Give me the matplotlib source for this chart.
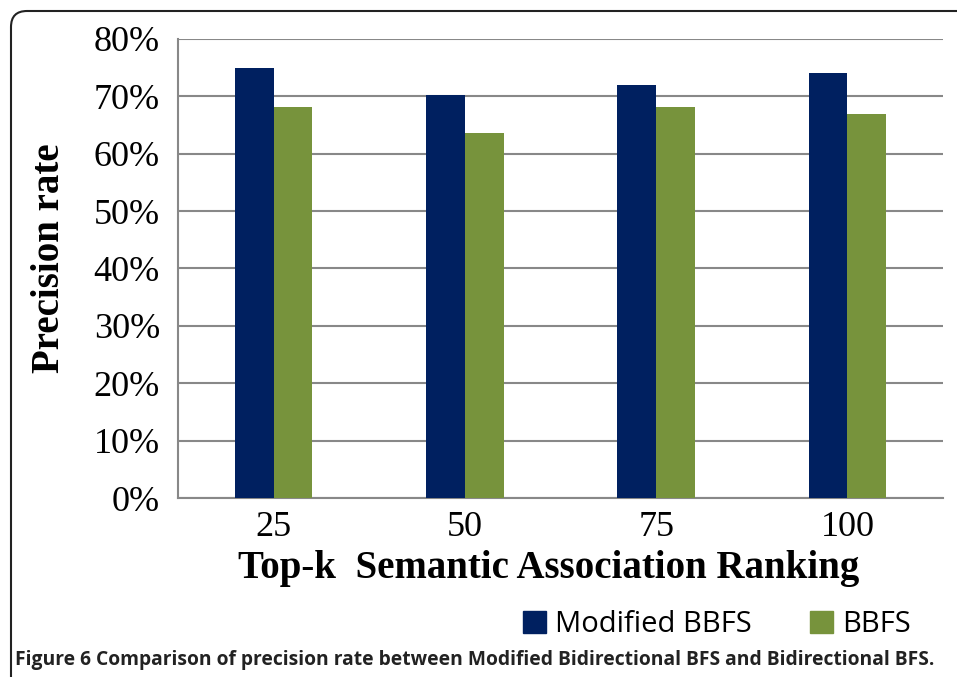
#!/usr/bin/env python3
"""Precision rate of Modified BBFS vs BBFS over top-k semantic association ranking."""
import numpy as np
import matplotlib; matplotlib.use("Agg"); import matplotlib.pyplot as plt
from matplotlib.patches import Patch, FancyBboxPatch
from matplotlib.transforms import IdentityTransform

CATS = ["25", "50", "75", "100"]
MOD_BBFS = [75, 70.3, 72, 74]
BBFS = [68.2, 63.7, 68.1, 67]
YTICKS = [0, 10, 20, 30, 40, 50, 60, 70, 80]
NAVY, GREEN, GRID = "#002060", "#77933C", "#888888"

fig = plt.figure(figsize=(9.57, 6.77), dpi=100)
ax = fig.add_axes([0.186, 0.2644, 0.7994, 0.678])
x = np.arange(len(CATS)); w = 0.203
ax.bar(x - w / 2, MOD_BBFS, w, color=NAVY, zorder=3)
ax.bar(x + w / 2, BBFS, w, color=GREEN, zorder=3)
ax.set_xlim(-0.5, len(CATS) - 0.5); ax.set_ylim(0, 80)
ax.set_yticks(YTICKS); ax.set_yticklabels([f"{v}%" for v in YTICKS])
ax.set_xticks(x); ax.set_xticklabels(CATS)
ax.grid(axis="y", color=GRID, lw=1.5, zorder=0)
for s in ("top", "right"): ax.spines[s].set_visible(False)
for s in ("left", "bottom"): ax.spines[s].set_color(GRID); ax.spines[s].set_linewidth(1.5)
ax.tick_params(length=0, labelsize=26)
ax.tick_params(axis="y", pad=13); ax.tick_params(axis="x", pad=9)
for t in ax.get_xticklabels() + ax.get_yticklabels(): t.set_family("Liberation Serif")

fig.text(0.052, 0.619, "Precision rate", rotation=90, ha="center", va="center",
         family="Liberation Serif", weight="bold", fontsize=28)
fig.text(0.573, 0.160, "Top-k  Semantic Association Ranking", ha="center", va="center",
         family="Liberation Serif", weight="bold", fontsize=28)

fig.legend(handles=[Patch(color=NAVY, label="Modified BBFS"), Patch(color=GREEN, label="BBFS")],
           loc="center", bbox_to_anchor=(0.749, 0.077), ncol=2, frameon=False,
           handlelength=0.8, handleheight=0.8, handletextpad=0.3, columnspacing=2.0,
           prop={"family": "Open Sans", "size": 21})

fig.text(0.016, 0.018, "Figure 6 Comparison of precision rate between Modified Bidirectional BFS and Bidirectional BFS.",
         ha="left", va="baseline", family="Open Sans", weight="bold", fontsize=13.9, color="#222222")

# rounded frame, open to the right and bottom
fig.add_artist(FancyBboxPatch((11, -60), 1000, 726, boxstyle="round,pad=0,rounding_size=16",
                              transform=IdentityTransform(), fill=False, ec="#222222", lw=1.5, clip_on=False))
fig.savefig("out.png", dpi=100)
